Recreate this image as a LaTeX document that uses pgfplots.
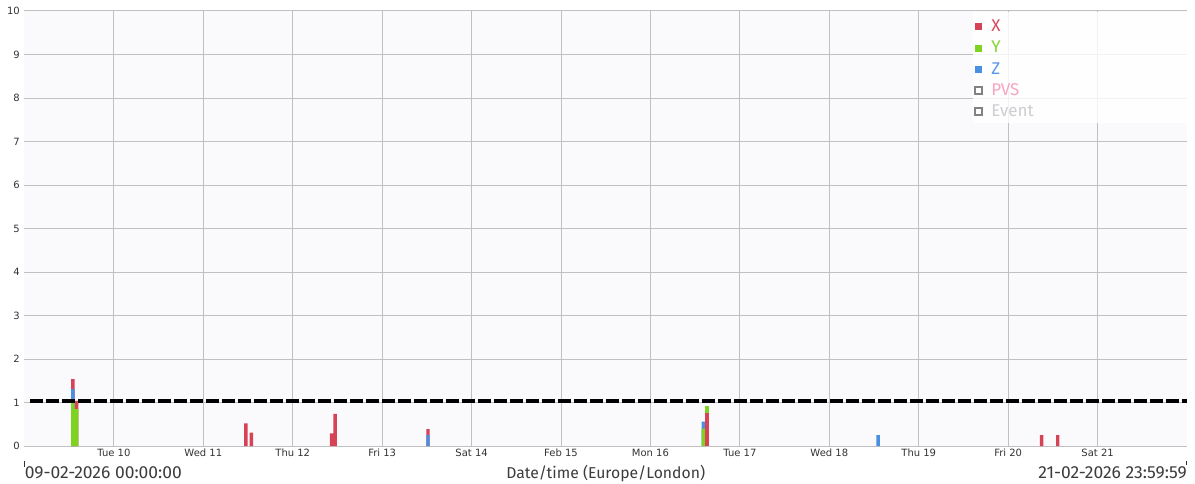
\documentclass[border=0pt]{standalone}
\usepackage{pgfplots}
\pgfplotsset{compat=1.18}
\usepackage{fontspec}
\setmainfont{Fira Sans}
\newfontfamily\tickfont{DejaVu Sans}
\definecolor{cX}{RGB}{214,67,86}
\definecolor{cY}{RGB}{126,211,33}
\definecolor{cZ}{RGB}{74,144,226}
\definecolor{cXt}{RGB}{218,72,92}
\definecolor{cYt}{RGB}{132,212,45}
\definecolor{cZt}{RGB}{90,152,228}
\definecolor{cPVS}{RGB}{247,165,195}
\definecolor{cEv}{RGB}{205,205,210}
\definecolor{cLegBox}{RGB}{130,130,130}
\definecolor{cgrid}{RGB}{192,192,192}
\definecolor{cbg}{RGB}{250,250,253}
\definecolor{ctick}{RGB}{51,51,51}
\definecolor{clab}{RGB}{60,60,60}
\begin{document}
\begin{tikzpicture}
\begin{axis}[
  name=ax,
  scale only axis,
  width=871.875pt, height=326.25pt,
  xmin=0, xmax=312, ymin=0, ymax=10,
  axis line style={draw=none},
  ytick={0,1,...,10},
  xtick={24,48,...,288},
  xticklabels={Tue 10, Wed 11, Thu 12, Fri 13, Sat 14, Feb 15, Mon 16, Tue 17, Wed 18, Thu 19, Fri 20, Sat 21},
  grid=major,
  major grid style={cgrid, line width=0.75pt},
  major tick length=0pt,
  tick label style={font=\tickfont\fontsize{7.5}{9}\selectfont, text=ctick},
  /pgf/number format/assume math mode=true,
  axis background/.style={fill=cbg},
  xticklabel style={anchor=base, yshift=-7.8pt},
  legend cell align=left,
  legend style={draw=none, fill=none, at={(rel axis cs:0.8128,0.992)}, anchor=north west,
    font=\fontsize{12.75}{14}\selectfont, row sep=1.6pt,
    /tikz/every odd column/.append style={column sep=4.5pt}},
]
% legend background
\fill[white, fill opacity=0.8] (rel axis cs:0.8155,0.9966) rectangle (rel axis cs:1,0.7425);
% top segments (X red)
\addplot[ybar, bar width=0.92, bar shift=0pt, fill=cX, draw=none,
  legend image code/.code={\fill[cX] (0pt,-2.625pt) rectangle (5.25pt,2.625pt);}]
  coordinates {(13,1.54) (14,1.04) (59.4,0.52) (60.9,0.31) (82.4,0.29) (83.35,0.74) (108.3,0.39) (273.0,0.25) (277.3,0.25)};
\addlegendentry{\textcolor{cXt}{X}}
% Y green (top segment of Mon 16 bar)
\addplot[ybar, bar width=0.92, bar shift=0pt, fill=cY, draw=none,
  legend image code/.code={\fill[cY] (0pt,-2.625pt) rectangle (5.25pt,2.625pt);}]
  coordinates {(183.2,0.93)};
\addlegendentry{\textcolor{cYt}{Y}}
% Z blue (cumulative)
\addplot[ybar, bar width=0.92, bar shift=0pt, fill=cZ, draw=none,
  legend image code/.code={\fill[cZ] (0pt,-2.625pt) rectangle (5.25pt,2.625pt);}]
  coordinates {(13,1.31) (108.3,0.25) (182.2,0.56) (229.1,0.25)};
\addlegendentry{\textcolor{cZt}{Z}}
\addlegendimage{legend image code/.code={\draw[cLegBox, line width=1.5pt] (0pt,-2.625pt) rectangle (5.25pt,2.625pt);}}
\addlegendentry{\textcolor{cPVS}{PVS}}
\addlegendimage{legend image code/.code={\draw[cLegBox, line width=1.5pt] (0pt,-2.625pt) rectangle (5.25pt,2.625pt);}}
\addlegendentry{\textcolor{cEv}{Event}}
% Y green lower segments
\addplot[ybar, bar width=0.92, bar shift=0pt, fill=cY, draw=none, forget plot]
  coordinates {(13,1.05) (14,0.85) (182.2,0.40)};
% X red lower segment
\addplot[ybar, bar width=0.92, bar shift=0pt, fill=cX, draw=none, forget plot]
  coordinates {(183.2,0.75)};
% dashed threshold line
\addplot[black, line width=3pt, dash pattern=on 9.75pt off 2.25pt, forget plot]
  coordinates {(1.5,1.04) (312,1.04)};
\end{axis}
% bottom labels
\node[anchor=base west, font=\fontsize{13.1}{14}\selectfont, text=clab, inner sep=0pt] at ([yshift=-24pt]ax.south west) {09-02-2026 00:00:00};
\node[anchor=base, font=\fontsize{11.8}{14}\selectfont, text=clab, inner sep=0pt] at ([yshift=-24pt]ax.south) {Date/time (Europe/London)};
\node[anchor=base east, font=\fontsize{13.1}{14}\selectfont, text=clab, inner sep=0pt] at ([yshift=-24pt]ax.south east) {21-02-2026 23:59:59};
\draw[ctick, line width=0.75pt] ([yshift=-11.5pt]ax.south west) -- ++(0pt,-4pt);
\draw[ctick, line width=0.75pt] ([shift={(-0.5pt,-11.5pt)}]ax.south east) -- ++(0pt,-3pt);
\pgfresetboundingbox
\path[use as bounding box] ([shift={(-18.375pt,-27.75pt)}]ax.south west) rectangle ([shift={(6pt,8.25pt)}]ax.north east);
\end{tikzpicture}
\end{document}
